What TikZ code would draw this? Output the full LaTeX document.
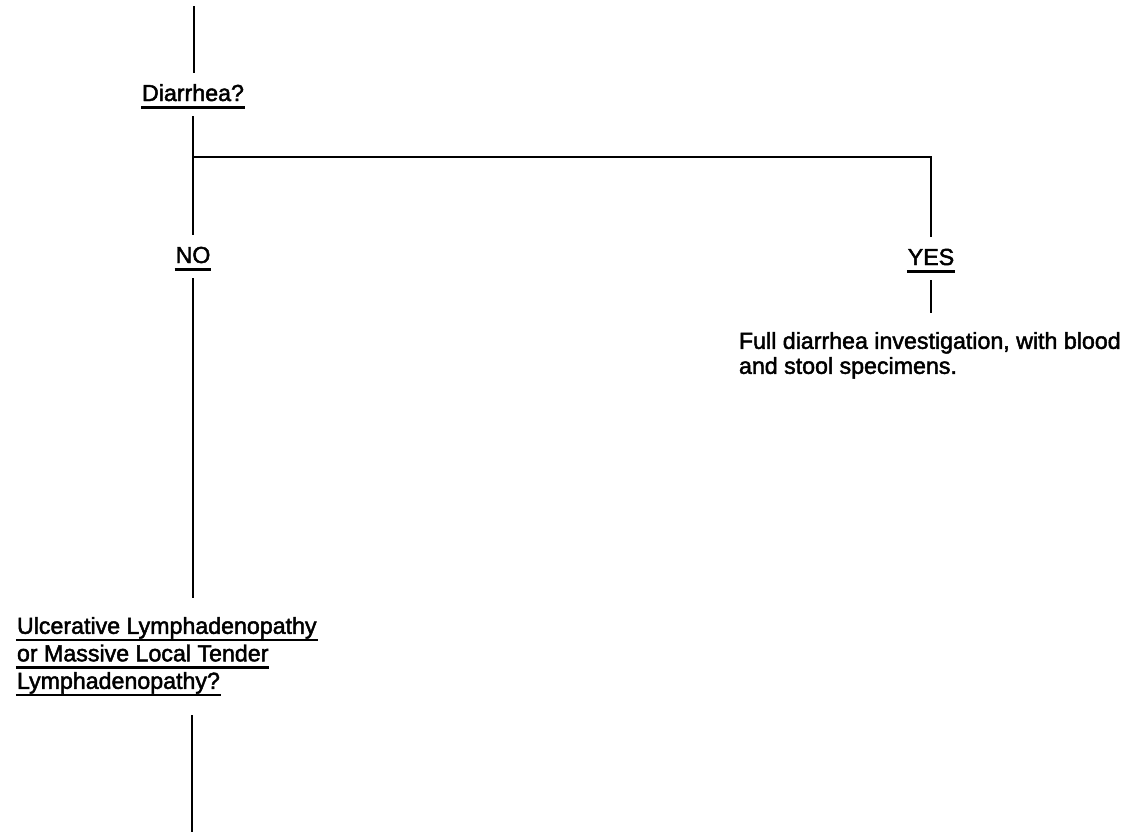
\documentclass[tikz,border=0pt]{standalone}
\usepackage{fontspec}
\setmainfont{Liberation Sans}[FakeBold=2]
\usetikzlibrary{positioning}
% underline drawn through the descenders, as in the printed form
\newcommand{\ulword}[1]{\setbox0\hbox{#1}\rlap{\kern-0.5pt\vrule height -2.4pt depth 3.8pt width \dimexpr\wd0+1pt\relax}\box0}
\newcommand{\lblfont}{\fontsize{11.6}{12.5}\selectfont}
\tikzset{
  % connector
  conn/.style={line width=1.4pt},
  % short question / answer labels
  lbl/.style={inner sep=0pt,outer sep=4.5pt,text height=9.5pt,text depth=3pt,font=\lblfont},
  % text blocks
  blk/.style={inner sep=0pt,outer xsep=0pt,outer ysep=9.5pt,align=left,font=\lblfont}
}
\begin{document}
\begin{tikzpicture}[x=0.5pt,y=-0.5pt]
  \useasboundingbox (0,0) rectangle (1131,832);
  \node[lbl,anchor=base] (diar) at (193,101) {\ulword{Diarrhea?}};
  \node[lbl,anchor=base] (no) at (193,263) {\ulword{NO}};
  \node[lbl,anchor=base] (yes) at (931,265) {\ulword{YES}};
  \node[blk,anchor=north west] (full) at (739,313) {Full diarrhea investigation, with blood\\and stool specimens.};
  \node[blk,anchor=north west,font={\fontsize{11.6}{13.75}\selectfont}] (ulc) at (17,598)
    {\ulword{Ulcerative Lymphadenopathy}\\\ulword{or Massive Local Tender}\\\ulword{Lymphadenopathy?}};
  \coordinate (top) at (194,6);
  \coordinate (split) at (193,157);
  \coordinate (bottom) at (192,832);

  \draw[conn] (top) -- (top |- diar.north);
  \draw[conn] (diar.south) -- (no.north);
  \draw[conn] (split) -| (yes.north);
  \draw[conn] (yes.south) -- (full.north -| yes.south);
  \draw[conn] (no.south) -- (ulc.north -| no.south);
  \draw[conn] (ulc.south -| bottom) -- (bottom);
\end{tikzpicture}
\end{document}
